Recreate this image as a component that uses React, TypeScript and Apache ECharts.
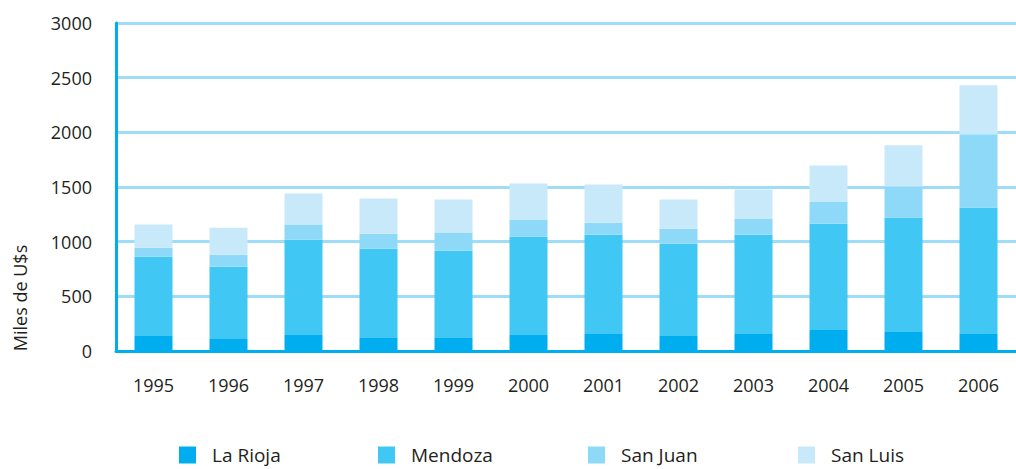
import React, { useEffect, useRef } from "react";
import * as echarts from "echarts";

const years = ["1995", "1996", "1997", "1998", "1999", "2000", "2001", "2002", "2003", "2004", "2005", "2006"];
const laRioja = [138, 110, 147, 119, 119, 147, 156, 138, 156, 193, 174, 156];
const mendoza = [724, 661, 871, 817, 798, 899, 908, 844, 908, 972, 1046, 1156];
const sanJuan = [83, 110, 138, 137, 166, 156, 110, 137, 147, 202, 285, 670];
const sanLuis = [211, 247, 284, 321, 302, 330, 349, 266, 266, 330, 376, 449];
const seriesNames = ["La Rioja", "Mendoza", "San Juan", "San Luis"];
const colors = ["#00AEEF", "#41C7F4", "#8ED8F8", "#C7E9F9"];
const yTicks = { min: 0, max: 3000, interval: 500 };
const yName = "Miles de U$s";

const FONT = "'Open Sans', 'DejaVu Sans', sans-serif";
const TEXT = "#231F20";

export default function App() {
  const ref = useRef<HTMLDivElement>(null);
  useEffect(() => {
    document.body.style.margin = "0";
    const chart = echarts.init(ref.current!, undefined, { renderer: "svg" });
    const dataSets = [laRioja, mendoza, sanJuan, sanLuis];
    const legendX = [179, 378, 588, 798];
    chart.setOption({
      animation: false,
      grid: { left: 116, top: 23, bottom: 118, width: 911, containLabel: false },
      legend: seriesNames.map((n, i) => ({
        data: [n],
        left: legendX[i],
        top: 445,
        itemWidth: 17,
        itemHeight: 17,
        itemGap: 0,
        icon: "rect",
        textStyle: {
          fontFamily: FONT,
          fontSize: 19,
          lineHeight: 20,
          color: TEXT,
          padding: [0, 0, 0, 11],
        },
        padding: 0,
      })),
      xAxis: {
        type: "category",
        data: years,
        axisLine: { lineStyle: { color: "#00AEEF", width: 3 } },
        axisTick: { show: false },
        axisLabel: { fontFamily: FONT, fontSize: 18, color: TEXT, margin: 25 },
      },
      yAxis: {
        type: "value",
        min: yTicks.min,
        max: yTicks.max,
        interval: yTicks.interval,
        axisLine: { show: true, lineStyle: { color: "#00AEEF", width: 3 } },
        axisTick: { show: false },
        splitLine: { lineStyle: { color: "#9EDCF7", width: 3 } },
        axisLabel: {
          fontFamily: FONT,
          fontSize: 18,
          color: TEXT,
          margin: 24,
          formatter: (v: number) => String(v),
        },
      },
      graphic: [
        {
          type: "text",
          x: 20,
          y: 298,
          rotation: Math.PI / 2,
          style: {
            text: yName,
            fontFamily: FONT,
            fontSize: 18,
            fill: TEXT,
            textAlign: "center",
            textVerticalAlign: "middle",
          },
        },
      ],
      series: seriesNames.map((n, i) => ({
        name: n,
        type: "bar",
        stack: "total",
        barWidth: 38,
        data: dataSets[i],
        itemStyle: { color: colors[i] },
      })),
    });
    return () => chart.dispose();
  }, []);
  return <div ref={ref} style={{ width: 1016, height: 469 }} />;
}
